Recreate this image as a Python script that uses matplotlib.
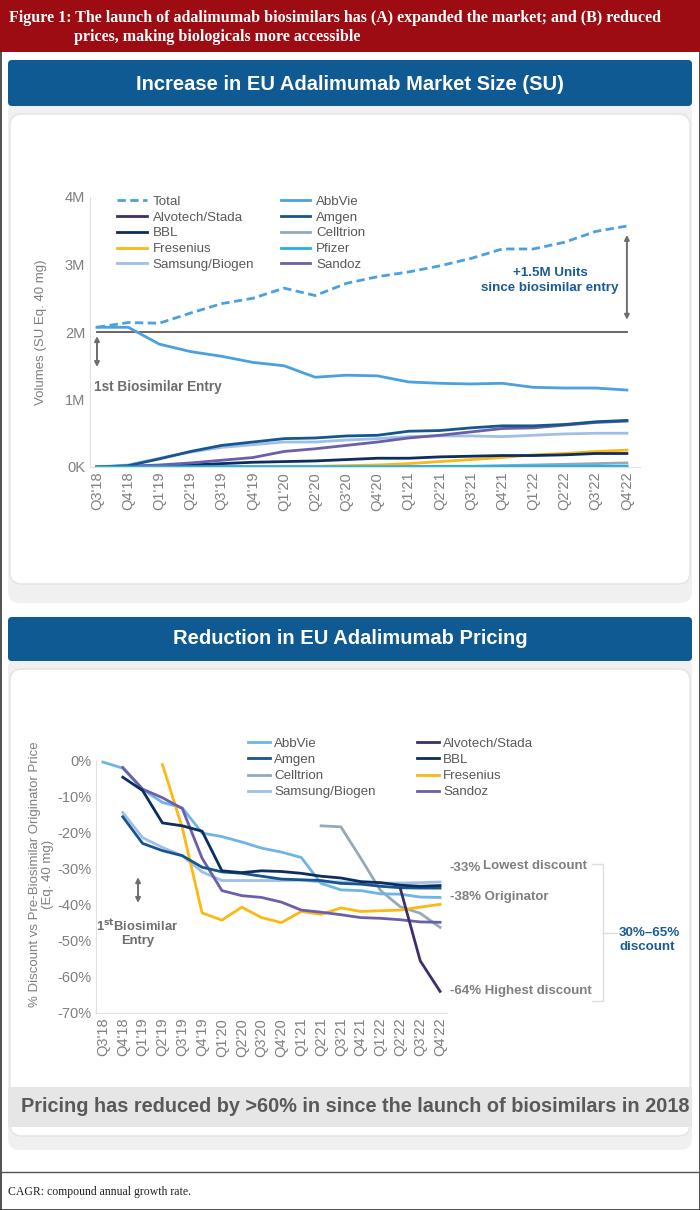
import matplotlib.pyplot as plt
from matplotlib.patches import Rectangle, FancyBboxPatch
import numpy as np

plt.rcParams['font.family'] = ['Liberation Sans', 'DejaVu Sans']

nan = np.nan
quarters = ["Q3'18", "Q4'18", "Q1'19", "Q2'19", "Q3'19", "Q4'19", "Q1'20", "Q2'20", "Q3'20",
            "Q4'20", "Q1'21", "Q2'21", "Q3'21", "Q4'21", "Q1'22", "Q2'22", "Q3'22", "Q4'22"]

# market size, millions of SU (eq. 40 mg)
vol_total = [2.07, 2.14, 2.13, 2.28, 2.42, 2.50, 2.65, 2.54, 2.72, 2.82, 2.89, 2.98, 3.09, 3.23, 3.23, 3.33, 3.49, 3.57]
vol_abbvie = [2.07, 2.07, 1.82, 1.71, 1.64, 1.55, 1.50, 1.33, 1.36, 1.35, 1.26, 1.24, 1.23, 1.24, 1.18, 1.17, 1.17, 1.14]
vol_alvotech = [0, 0, 0, 0, 0, 0, 0, 0, 0, 0, 0, 0, 0, 0, 0, 0.002, 0.005, 0.01]
vol_amgen = [0, 0.02, 0.12, 0.23, 0.32, 0.37, 0.42, 0.43, 0.46, 0.47, 0.53, 0.54, 0.58, 0.61, 0.61, 0.63, 0.67, 0.69]
vol_bbl = [0, 0.01, 0.02, 0.03, 0.05, 0.07, 0.08, 0.09, 0.11, 0.13, 0.13, 0.15, 0.16, 0.17, 0.17, 0.18, 0.20, 0.20]
vol_celltrion = [0, 0, 0, 0, 0, 0, 0, 0, 0, 0, 0, 0.005, 0.01, 0.02, 0.03, 0.04, 0.05, 0.06]
vol_fresenius = [0, 0, 0, 0, 0, 0.005, 0.01, 0.01, 0.02, 0.03, 0.05, 0.08, 0.11, 0.14, 0.18, 0.20, 0.23, 0.25]
vol_pfizer = [0, 0, 0, 0.005, 0.005, 0.005, 0.005, 0.005, 0.005, 0.005, 0.005, 0.01, 0.01, 0.01, 0.01, 0.01, 0.01, 0.01]
vol_samsung = [0, 0.03, 0.13, 0.22, 0.29, 0.33, 0.37, 0.37, 0.40, 0.42, 0.45, 0.46, 0.46, 0.45, 0.47, 0.49, 0.50, 0.50]
vol_sandoz = [0, 0.01, 0.03, 0.06, 0.10, 0.14, 0.23, 0.27, 0.32, 0.37, 0.43, 0.47, 0.52, 0.57, 0.58, 0.62, 0.66, 0.68]

# % discount vs pre-biosimilar originator price
pr_abbvie = [-0.3, -2.0, -7.9, -11.5, -13.0, -20.0, -21.0, -22.5, -24.2, -25.3, -26.8, -34.0, -35.8, -36.0, -36.9, -37.0, -37.8, -37.9]
pr_amgen = [nan, -15.5, -22.9, -24.9, -26.3, -29.5, -30.8, -31.2, -32.0, -32.8, -33.0, -33.2, -34.0, -34.2, -34.8, -35.2, -35.3, -35.3]
pr_celltrion = [nan] * 11 + [-18.0, -18.3, -27.0, -36.0, -40.5, -42.3, -46.2]
pr_samsung = [nan, -14.3, -21.3, -24.0, -26.3, -30.8, -33.2, -33.2, -33.2, -33.2, -33.1, -33.6, -33.6, -33.9, -33.9, -33.9, -33.8, -33.6]
pr_alvotech = [nan] * 15 + [-35.5, -55.5, -64.0]
pr_bbl = [nan, -4.5, -8.2, -17.2, -18.0, -19.5, -30.5, -31.0, -30.5, -30.7, -31.2, -32.0, -32.5, -33.5, -33.8, -34.5, -34.8, -34.6]
pr_fresenius = [nan, nan, nan, -1.0, -18.5, -42.2, -44.2, -40.6, -43.5, -44.9, -41.8, -42.6, -40.8, -41.8, -41.6, -41.4, -40.6, -39.8]
pr_sandoz = [nan, -1.8, -7.8, -10.2, -13.2, -27.0, -36.0, -37.4, -37.9, -39.2, -41.4, -42.0, -42.7, -43.5, -43.7, -44.1, -44.7, -44.8]

W, H = 700, 1210
RED = '#9c0c12'
BAND = '#0f5a93'
GREY_TXT = '#7f7f7f'
DARK_TXT = '#595959'

fig = plt.figure(figsize=(7, 12.1), dpi=100)
bg = fig.add_axes([0, 0, 1, 1], zorder=0)
bg.set_xlim(0, W)
bg.set_ylim(H, 0)
bg.axis('off')


def rect(x0, y0, x1, y1, **kw):
    bg.add_patch(Rectangle((x0, y0), x1 - x0, y1 - y0, **kw))


def rbox(x0, y0, x1, y1, r, **kw):
    bg.add_patch(FancyBboxPatch((x0 + r, y0 + r), x1 - x0 - 2 * r, y1 - y0 - 2 * r,
                                boxstyle='round,pad=%g' % r, **kw))


def px_axes(l, t, r, b):
    return fig.add_axes([l / W, 1 - b / H, (r - l) / W, (b - t) / H], zorder=2)


# header
rect(0, 0, W, 52, color=RED, lw=0)
bg.text(9, 18, 'Figure 1: The launch of adalimumab biosimilars has (A) expanded the market; and (B) reduced',
        family='Liberation Serif', weight='bold', size=11.5, color='white', va='center')
bg.text(74, 37, 'prices, making biologicals more accessible',
        family='Liberation Serif', weight='bold', size=11.5, color='white', va='center')

# outer frame + caption
bg.plot([0.5, 0.5], [52, H], color='#333333', lw=1.2)
bg.plot([W - 0.5, W - 0.5], [52, H], color='#333333', lw=1.2)
bg.plot([0, W], [H - 0.5, H - 0.5], color='#333333', lw=1.2)
bg.plot([0, W], [1172, 1172], color='#555555', lw=1.0)
bg.text(8, 1192, 'CAGR: compound annual growth rate.', family='Liberation Serif',
        size=8.5, color='#222222', va='center')

# panel 1
rbox(8, 100, 692, 603, 12, facecolor='#f0f0f0', edgecolor='none')
rbox(10, 114, 690, 584, 12, facecolor='white', edgecolor='#e3e3e3', lw=1)
rbox(8, 60, 692, 106, 4, facecolor=BAND, edgecolor='none')
bg.text(350, 84, 'Increase in EU Adalimumab Market Size (SU)', color='white', weight='bold',
        size=14.5, ha='center', va='center')

# panel 2
rbox(8, 656, 692, 1150, 12, facecolor='#f0f0f0', edgecolor='none')
rbox(10, 669, 690, 1136, 12, facecolor='white', edgecolor='#e3e3e3', lw=1)
rbox(8, 617, 692, 661, 4, facecolor=BAND, edgecolor='none')
bg.text(350, 639, 'Reduction in EU Adalimumab Pricing', color='white', weight='bold',
        size=14.5, ha='center', va='center')
rect(8, 1087, 692, 1127, facecolor='#e6e6e6', edgecolor='none')
bg.text(355, 1107, 'Pricing has reduced by >60% in since the launch of biosimilars in 2018',
        color=DARK_TXT, weight='bold', size=14.3, ha='center', va='center')

x = np.arange(len(quarters))


def style_axes(ax, fs):
    for s in ('top', 'right'):
        ax.spines[s].set_visible(False)
    for s in ('left', 'bottom'):
        ax.spines[s].set_color('#e0e0e0')
    ax.set_facecolor('none')
    ax.tick_params(length=0, colors=GREY_TXT, labelsize=fs)
    ax.set_xticks(x)
    ax.set_xticklabels(quarters, rotation=90)


# ---- volume chart
ax1 = px_axes(90, 197, 640, 467)
style_axes(ax1, 10.5)
ax1.set_xlim(-0.224, 17.42)
ax1.set_ylim(0, 4)
ax1.set_yticks([0, 1, 2, 3, 4])
ax1.set_yticklabels(['0K', '1M', '2M', '3M', '4M'])
ax1.set_ylabel('Volumes (SU Eq. 40 mg)', color=GREY_TXT, size=9.5)
ax1.yaxis.set_label_coords(-0.078, 0.5)

lw = 2.0
h = {}
h['Celltrion'], = ax1.plot(x, vol_celltrion, color='#95a9b6', lw=lw)
h['Alvotech/Stada'], = ax1.plot(x, vol_alvotech, color='#3f2d6e', lw=lw)
h['Fresenius'], = ax1.plot(x, vol_fresenius, color='#fcb813', lw=lw)
h['BBL'], = ax1.plot(x, vol_bbl, color='#0b2d5f', lw=lw)
h['Samsung/Biogen'], = ax1.plot(x, vol_samsung, color='#9fbfe8', lw=lw)
h['Sandoz'], = ax1.plot(x, vol_sandoz, color='#6a5fa9', lw=lw)
h['Amgen'], = ax1.plot(x, vol_amgen, color='#17558f', lw=lw)
h['Pfizer'], = ax1.plot(x, vol_pfizer, color='#1eb2ec', lw=lw)
h['AbbVie'], = ax1.plot(x, vol_abbvie, color='#4ba0df', lw=lw)
h['Total'], = ax1.plot(x, vol_total, color='#4ba0df', lw=lw, ls=(0, (3, 1.6)))

ax1.plot([x[0], x[-1]], [2.0, 2.0], color='#5a5a5a', lw=1.3, zorder=1)
ax1.annotate('', xy=(x[-1], 3.48), xytext=(x[-1], 2.14),
             arrowprops=dict(arrowstyle='<|-|>', color='#6d6d6d', lw=1.4, mutation_scale=7))
ax1.annotate('', xy=(x[0], 1.98), xytext=(x[0], 1.44),
             arrowprops=dict(arrowstyle='<|-|>', color='#6d6d6d', lw=1.4, mutation_scale=7))
ax1.text(x[0] - 0.1, 1.19, '1st Biosimilar Entry', color='#6d6d6d', weight='bold', size=9.8,
         va='center')
ax1.text(14.53, 2.76, '+1.5M Units\nsince biosimilar entry', color='#1a5b95', weight='bold',
         size=9.6, ha='center', va='center', linespacing=1.3)

order1 = ['Total', 'Alvotech/Stada', 'BBL', 'Fresenius', 'Samsung/Biogen',
          'AbbVie', 'Amgen', 'Celltrion', 'Pfizer', 'Sandoz']
ax1.legend([h[k] for k in order1], order1, ncol=2, frameon=False, loc='upper left',
           bbox_to_anchor=(0.028, 1.05), fontsize=9.6, labelcolor=DARK_TXT, handlelength=2.2,
           columnspacing=2.0, labelspacing=0.26, handletextpad=0.45)

# ---- price chart
ax2 = px_axes(96, 761, 447, 1013)
style_axes(ax2, 10.5)
ax2.set_xlim(-0.35, 17.35)
ax2.set_ylim(-70, 0)
ax2.set_yticks(np.arange(-70, 1, 10))
ax2.set_yticklabels(['%d%%' % v for v in np.arange(-70, 1, 10)])
ax2.set_ylabel('% Discount vs Pre-Biosimilar Originator Price\n(Eq. 40 mg)', color=GREY_TXT,
               size=9.5, linespacing=1.15)
ax2.yaxis.set_label_coords(-0.12, 0.55)

g = {}
g['Samsung/Biogen'], = ax2.plot(x, pr_samsung, color='#9fbfe8', lw=lw, clip_on=False)
g['Celltrion'], = ax2.plot(x, pr_celltrion, color='#95a9b6', lw=lw, clip_on=False)
g['AbbVie'], = ax2.plot(x, pr_abbvie, color='#6db5e6', lw=lw, clip_on=False)
g['Fresenius'], = ax2.plot(x, pr_fresenius, color='#fcb813', lw=lw, clip_on=False)
g['Sandoz'], = ax2.plot(x, pr_sandoz, color='#6a5fa9', lw=lw, clip_on=False)
g['Amgen'], = ax2.plot(x, pr_amgen, color='#17558f', lw=lw, clip_on=False)
g['BBL'], = ax2.plot(x, pr_bbl, color='#0b2d5f', lw=lw, clip_on=False)
g['Alvotech/Stada'], = ax2.plot(x, pr_alvotech, color='#3f2d6e', lw=lw, clip_on=False)

order2 = ['AbbVie', 'Amgen', 'Celltrion', 'Samsung/Biogen',
          'Alvotech/Stada', 'BBL', 'Fresenius', 'Sandoz']
ax2.legend([g[k] for k in order2], order2, ncol=2, frameon=False, loc='upper left',
           bbox_to_anchor=(0.40, 1.14), fontsize=9.6, labelcolor=DARK_TXT, handlelength=1.65,
           columnspacing=3.1, labelspacing=0.28, handletextpad=0.3)

ax2.annotate('', xy=(1.77, -31.5), xytext=(1.77, -40.2),
             arrowprops=dict(arrowstyle='<|-|>', color='#6d6d6d', lw=1.4, mutation_scale=7))
ax2.text(1.74, -47.6, r'1$^{\mathbf{st}}$Biosimilar' + '\nEntry', color='#6d6d6d', weight='bold',
         size=9.4, ha='center', va='center', linespacing=1.15)

# right-hand annotations (pixel layout)
ann = dict(color=GREY_TXT, weight='bold', size=9.5, va='center')
bg.text(450, 868, '-33%', **ann)
bg.text(483, 866, 'Lowest discount', **ann)
bg.text(450, 897, '-38% Originator', **ann)
bg.text(450, 991, '-64% Highest discount', **ann)
brk = '#dddddd'
bg.plot([592, 603, 603, 592], [864, 864, 1001, 1001], color=brk, lw=1)
bg.plot([603, 617], [933, 933], color=brk, lw=1)
bg.text(619, 940, '30%\u201365%\ndiscount', color='#1a5b95', weight='bold', size=9.6,
        va='center', linespacing=1.2)

fig.savefig('out.png', dpi=100)
